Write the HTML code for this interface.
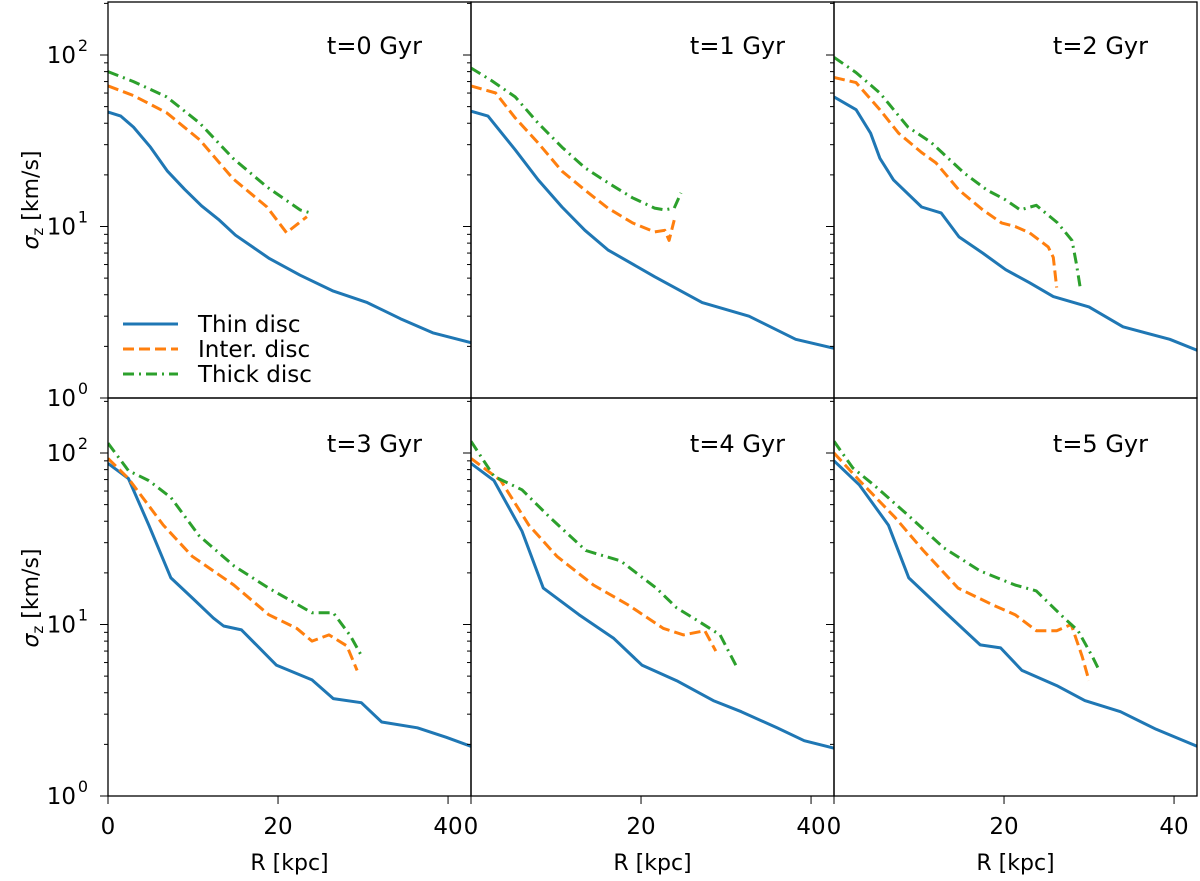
<!DOCTYPE html>
<html><head><meta charset="utf-8"><style>
html,body{margin:0;padding:0;background:#fff}
svg{display:block;font-family:"DejaVu Sans","Liberation Sans",sans-serif}
</style></head><body>
<svg id="chart" width="1200" height="881" viewBox="0 0 1200 881" xmlns="http://www.w3.org/2000/svg"></svg>
<script>
const panelTitles = ["t=0 Gyr","t=1 Gyr","t=2 Gyr","t=3 Gyr","t=4 Gyr","t=5 Gyr"];
const seriesNames = ["Thin disc","Inter. disc","Thick disc"];
const xTicks = [0,20,40];
const yTicks = [1,10,100];
const yTickLabels = ["0","1","2"];
// t=0
const thinR0 = [0,1.5,3,5,7,9,11,13,15,17,19,22.6,26.5,30.5,34.4,38.2,42.7];
const thinS0 = [46.5,44,38,29,21,16.5,13.2,11,8.9,7.6,6.5,5.2,4.2,3.6,2.9,2.4,2.1];
const interR0 = [0,3,6.9,10.8,14.7,18.7,21,23.4];
const interS0 = [66,58,46,32,19,13,9.2,11.4];
const thickR0 = [0,3,6.9,10.8,14.7,18.7,22.6,23.8];
const thickS0 = [80,70,57,40,25,17,12.5,12];
// t=1
const thinR1 = [0,2,5.2,7.9,10.7,13.4,16.1,21.6,27.2,32.7,38.2,42.7];
const thinS1 = [47,44,28,18.7,13,9.5,7.3,5.1,3.6,3.0,2.2,1.95];
const interR1 = [0,2.9,5.2,7.9,10.7,13.4,16.1,19,21.6,22.8,23.3,23.9];
const interS1 = [66,60,43,30.7,21,16.3,12.8,10.5,9.3,9.5,8.3,10.9];
const thickR1 = [0,2.4,5.2,7.9,10.7,13.4,16.1,19,21.6,22.8,23.9,24.7];
const thickS1 = [84,71,57,40,29,22,18,14.7,12.8,12.5,12.8,15.7];
// t=2
const thinR2 = [0,2.6,4.3,5.4,7,10.3,12.6,14.7,17.5,20.2,23,25.8,30,34,39.5,42.7];
const thinS2 = [57,48,35,25,18.7,13,12,8.7,7.0,5.6,4.7,3.9,3.4,2.6,2.2,1.9];
const interR2 = [0,2.6,5.4,7.6,10.3,12,14.7,17.5,19.7,21.3,23,25.2,25.8,26.2];
const interS2 = [74,69,48,35,27,23.5,16.3,12.5,10.5,10,9.2,7.6,6.6,4.4];
const thickR2 = [0,2.6,5.4,8.7,11.4,15.3,18,20.2,21.9,23.8,26.3,28,28.5,29];
const thickS2 = [97,79,60,38,31,20.5,16.3,14.3,12.5,13.3,10.5,8.3,6.1,4.3];
// t=3
const thinR3 = [0,2.4,4.8,7.4,9.9,12.4,13.6,15.7,19.8,24,26.5,29.8,32.2,36.4,39.8,42.7];
const thinS3 = [87,71,38,18.7,14.3,10.9,9.8,9.3,5.8,4.75,3.7,3.5,2.7,2.5,2.2,1.95];
const interR3 = [0,2.4,6.5,9.9,14.8,18.9,22.2,24,26,28.1,29.3];
const interS3 = [93,71,38,25,17,11.4,9.5,8.0,8.7,7.5,5.4];
const thickR3 = [0,2.4,4.8,7.4,10.7,14.8,18.9,24,26.5,28.5,29.8];
const thickS3 = [114,79,69,55,33,22,16.3,11.7,11.7,8.6,6.6];
// t=4
const thinR4 = [0,2.7,6,8.5,12.7,16.8,20.1,24.2,28.5,31.8,36,39.2,42.7];
const thinS4 = [87,69,35,16.3,11.4,8.3,5.8,4.7,3.6,3.1,2.5,2.1,1.9];
const interR4 = [0,3.5,6.8,10.1,14.4,18.5,22.6,25,27.5,28.8];
const interS4 = [93,69,38,25,17,13,9.5,8.7,9.2,7.0];
const thickR4 = [0,2.7,6,9.3,13.5,17.6,21.8,24.2,26.7,29.3,31.3];
const thickS4 = [117,73,61,42,27,23.5,16.3,12.5,10.5,8.7,5.6];
// t=5
const thinR5 = [0,3,6.4,8.8,12.9,17.2,19.6,22.1,26.2,29.5,33.7,37.9,42.7];
const thinS5 = [90,65,38,18.7,12,7.6,7.3,5.4,4.4,3.6,3.1,2.45,1.95];
const interR5 = [0,3,7.2,10.5,14.6,18.7,21.3,23.8,26.2,27.9,29.2,30];
const interS5 = [100,69,42,27,16.3,13,11.4,9.2,9.2,10,6.5,4.7];
const thickR5 = [0,2.2,4.7,8.8,12.9,17.2,21.3,23.8,27,28.7,30.4,31.2];
const thickS5 = [117,82,65,43,28,20.5,17,15.7,11,9.2,6.5,5.4];

const panelData = [
  [[thinR0,thinS0],[interR0,interS0],[thickR0,thickS0]],
  [[thinR1,thinS1],[interR1,interS1],[thickR1,thickS1]],
  [[thinR2,thinS2],[interR2,interS2],[thickR2,thickS2]],
  [[thinR3,thinS3],[interR3,interS3],[thickR3,thickS3]],
  [[thinR4,thinS4],[interR4,interS4],[thickR4,thickS4]],
  [[thinR5,thinS5],[interR5,interS5],[thickR5,thickS5]]
];
const colors = ["#1f77b4","#ff7f0e","#2ca02c"];
const dashes = ["none","11,5","11,5,2,5"];

const NS = "http://www.w3.org/2000/svg";
const svg = document.getElementById("chart");
const lefts = [108,471,834], bottoms = [398,796], W = 363;
const XMAX = 42.7, DEC = 171.5;
function mk(tag, attrs, parent){ const e=document.createElementNS(NS,tag); for(const k in attrs) e.setAttribute(k,attrs[k]); (parent||svg).appendChild(e); return e; }

for(let p=0;p<6;p++){
  const col=p%3,row=Math.floor(p/3);
  const x0=lefts[col], yb=bottoms[row], y0=row===0?2:398, H=yb-y0;
  const xs=v=>x0+v/XMAX*W, ys=v=>yb-DEC*Math.log10(v);
  const g=mk("g",{});
  
  
  const cid="clip"+p;
  const cp=mk("clipPath",{id:cid},g); mk("rect",{x:x0,y:y0,width:W,height:H},cp);
  for(let s=0;s<3;s++){
    const [R,S]=panelData[p][s];
    let d=""; for(let i=0;i<R.length;i++) d+=(i?"L":"M")+xs(R[i]).toFixed(1)+","+ys(S[i]).toFixed(1);
    const path=mk("path",{d:d,fill:"none",stroke:colors[s],"stroke-width":3,"stroke-linejoin":"round","clip-path":"url(#"+cid+")"},g);
    if(dashes[s]!=="none") path.setAttribute("stroke-dasharray",dashes[s]);
    
    
  }
  mk("rect",{x:x0,y:y0,width:W,height:H,fill:"none",stroke:"#000","stroke-width":1.3},g);
  for(let dcd=0;dcd<3;dcd++){
    for(let m=1;m<=9;m++){
      const v=Math.pow(10,dcd)*m; const yy=ys(v);
      if(yy<y0+1) continue;
      mk("line",{x1:x0-(m===1?8:4),x2:x0,y1:yy,y2:yy,stroke:"#000","stroke-width":1},g);
    }
  }
  if(col===0){
    yTicks.forEach((v,i)=>{
      const t=mk("text",{x:x0-32,y:ys(v)+8,"text-anchor":"end","font-size":23,fill:"#000"},g);
      t.textContent="10";
      
      
      const sup=mk("text",{x:x0-20,y:ys(v)-4,"text-anchor":"end","font-size":16,fill:"#000"},g);
      sup.textContent=yTickLabels[i];
      
      
    });
  }
  if(row===1){
    xTicks.forEach(v=>{
      mk("line",{x1:xs(v),x2:xs(v),y1:yb,y2:yb+8,stroke:"#000","stroke-width":1},g);
      const t=mk("text",{x:xs(v),y:yb+38,"text-anchor":"middle","font-size":23,fill:"#000"},g);
      t.textContent=String(v);
      
      
    });
    const xl=mk("text",{x:x0+W/2,y:870,"text-anchor":"middle","font-size":22,fill:"#000"},g);
    xl.textContent="R [kpc]";
    
    
  }
  const tt=mk("text",{x:x0+314,y:(row===0?2:400)+52,"text-anchor":"end","font-size":24,fill:"#000"},g);
  tt.textContent=panelTitles[p];
  
  
  if(col===0){
    const yt=mk("text",{x:0,y:0,"text-anchor":"middle","font-size":22,fill:"#000",transform:"translate(38,"+(yb-198)+") rotate(-90)"},g);
    yt.innerHTML='<tspan font-style="italic">σ</tspan><tspan font-size="15" dy="5">z</tspan><tspan dy="-5"> [km/s]</tspan>';
    
    
  }
}
const lg=mk("g",{});


const legY=[324,349,374];
for(let s=0;s<3;s++){
  const l=mk("line",{x1:123,x2:178,y1:legY[s],y2:legY[s],stroke:colors[s],"stroke-width":3},lg);
  if(dashes[s]!=="none") l.setAttribute("stroke-dasharray",dashes[s]);
  const t=mk("text",{x:198,y:legY[s]+8,"font-size":23,fill:"#000"},lg);
  t.textContent=seriesNames[s];
  
  
}
</script>
</body></html>
